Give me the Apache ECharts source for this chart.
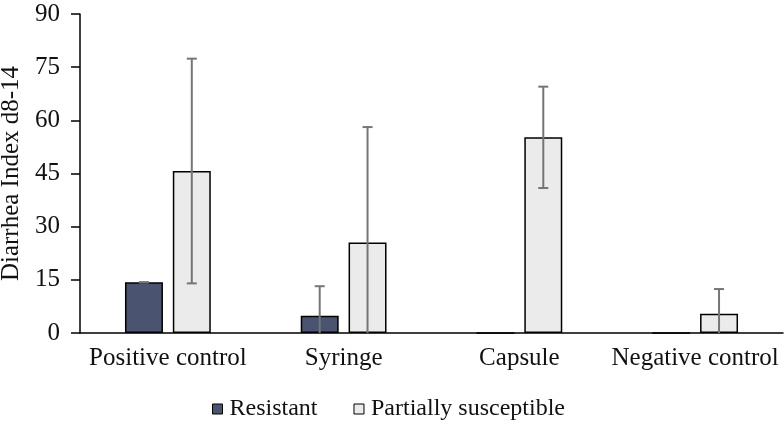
<!DOCTYPE html>
<html>
<head>
<meta charset="utf-8">
<script src="https://cdn.jsdelivr.net/npm/echarts@6/dist/echarts.min.js"></script>
<style>html,body{margin:0;padding:0;background:#fff;}#c{width:784px;height:426px;}</style>
</head>
<body>
<div id="c"></div>
<script>
var categories = ['Positive control', 'Syringe', 'Capsule', 'Negative control'];
var resistant = [14.3, 4.9, 0, 0];
var resistantErr = [0, 8.3, null, null];
var partial = [45.7, 25.5, 55.2, 5.4];
var partialErr = [31.7, 32.6, 14.3, 7.0];
var yTicks = [0, 15, 30, 45, 60, 75, 90];

var BAR_FRAC = 0.216, GAP_FRAC = 0.26;
var FONT = '"Liberation Serif", "Times New Roman", serif';

function errData(vals, errs) {
  var d = [];
  for (var i = 0; i < vals.length; i++) {
    if (errs[i] !== null) d.push([i, vals[i], errs[i]]);
  }
  return d;
}

function makeErr(sign) {
  return function (params, api) {
    var idx = api.value(0), v = api.value(1), e = api.value(2);
    var band = api.size([1, 0])[0];
    var bw = band * BAR_FRAC;
    var off = sign * (bw + bw * GAP_FRAC) / 2;
    var hi = api.coord([idx, v + e]);
    var loV = v - e;
    var clipped = loV < 0;
    var lo = api.coord([idx, Math.max(0, loV)]);
    var x = hi[0] + off;
    var cap = 5;
    var style = { stroke: '#757575', lineWidth: 2 };
    var children = [
      { type: 'line', shape: { x1: x, y1: hi[1], x2: x, y2: lo[1] }, style: style },
      { type: 'line', shape: { x1: x - cap, y1: hi[1], x2: x + cap, y2: hi[1] }, style: style }
    ];
    if (!clipped) children.push({ type: 'line', shape: { x1: x - cap, y1: lo[1], x2: x + cap, y2: lo[1] }, style: style });
    return { type: 'group', children: children };
  };
}

var chart = echarts.init(document.getElementById('c'));
chart.setOption({
  animation: false,
  textStyle: { fontFamily: FONT },
  grid: { left: 80, right: 1, top: 14, bottom: 93, outerBoundsMode: 'none', containLabel: false },
  legend: {
    bottom: 0,
    left: 207,
    itemWidth: 10, itemHeight: 10, itemGap: 36,
    icon: 'rect',
    textStyle: { fontFamily: FONT, fontSize: 24, color: '#111', padding: [0, 0, 0, 2] },
    data: [
      { name: 'Resistant', itemStyle: { borderColor: '#000', borderWidth: 1 } },
      { name: 'Partially susceptible', itemStyle: { borderColor: '#000', borderWidth: 1 } }
    ]
  },
  xAxis: {
    type: 'category',
    data: categories,
    axisLine: { lineStyle: { color: '#000', width: 1.5 } },
    axisTick: { show: false },
    axisLabel: { color: '#111', fontFamily: FONT, fontSize: 25, margin: 13, interval: 0 }
  },
  yAxis: {
    type: 'value',
    min: 0, max: 90, interval: 15,
    name: 'Diarrhea Index d8-14',
    nameLocation: 'middle',
    nameGap: 51,
    nameTextStyle: { fontFamily: FONT, fontSize: 25, color: '#111' },
    axisLine: { show: true, lineStyle: { color: '#000', width: 1.5 } },
    axisTick: { show: true, length: 9, lineStyle: { color: '#000', width: 1.5 } },
    splitLine: { show: false },
    axisLabel: { color: '#111', fontFamily: FONT, fontSize: 25, margin: 20,
      formatter: function (v) { return yTicks.indexOf(v) >= 0 ? String(v) : ''; } }
  },
  series: [
    {
      name: 'Resistant', type: 'bar', data: resistant,
      barWidth: (BAR_FRAC * 100) + '%', barGap: (GAP_FRAC * 100) + '%',
      itemStyle: { color: '#4a5470', borderColor: '#000', borderWidth: 1.5 }
    },
    {
      name: 'Partially susceptible', type: 'bar', data: partial,
      barWidth: (BAR_FRAC * 100) + '%',
      itemStyle: { color: '#ebebeb', borderColor: '#000', borderWidth: 1.5 }
    },
    {
      type: 'custom', name: 'errR', renderItem: makeErr(-1),
      data: errData(resistant, resistantErr), z: 10, silent: true,
      encode: { x: 0, y: 1 }
    },
    {
      type: 'custom', name: 'errP', renderItem: makeErr(1),
      data: errData(partial, partialErr), z: 10, silent: true,
      encode: { x: 0, y: 1 }
    }
  ]
});
</script>
</body>
</html>
